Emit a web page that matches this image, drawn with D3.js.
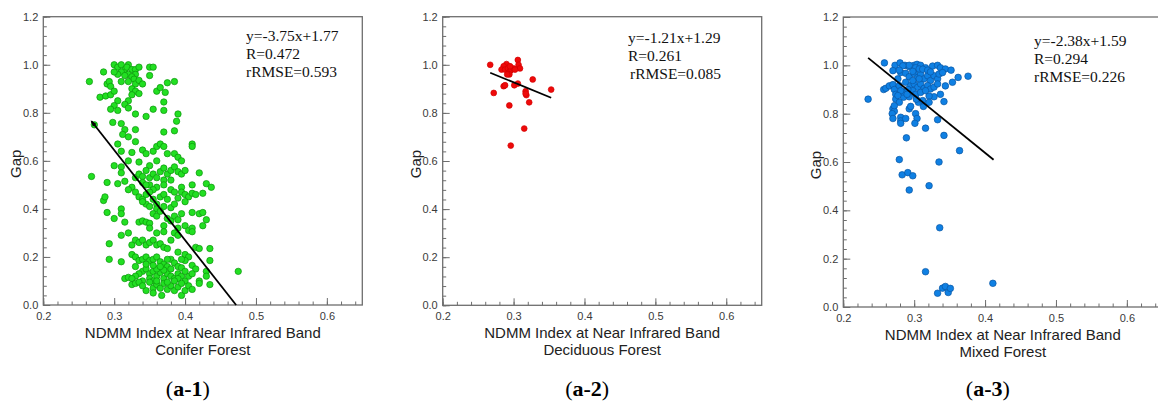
<!DOCTYPE html>
<html>
<head>
<meta charset="utf-8">
<script src="https://cdn.jsdelivr.net/npm/d3@7"></script>
<style>
  body { margin: 0; background: #fff; }
  svg { display: block; }
</style>
</head>
<body>
<svg id="fig" width="1158" height="403"></svg>
<script>
// tick values shared by the three panels
let xMajor = [0.2, 0.3, 0.4, 0.5, 0.6];
let yMajor = [0.0, 0.2, 0.4, 0.6, 0.8, 1.0, 1.2];

// conifer forest (a-1): [ndmm, gap]
let coniferPts = [
  [0.30,1.0],[0.305,0.99],[0.31,1.0],[0.315,0.98],[0.32,1.0],[0.318,0.99],[0.325,0.98],[0.31,0.97],[0.32,0.96],[0.33,0.98],
  [0.335,0.99],[0.35,0.99],[0.355,0.99],[0.33,0.96],[0.325,0.95],[0.305,0.96],[0.315,0.955],[0.35,0.955],[0.30,0.97],[0.328,0.94],
  [0.32,0.93],[0.33,0.92],[0.335,0.935],[0.31,0.93],[0.34,0.92],
  [0.265,0.93],[0.285,0.97],[0.29,0.92],[0.293,0.93],[0.295,0.91],[0.325,0.90],[0.33,0.89],[0.335,0.88],[0.325,0.875],[0.36,0.89],
  [0.365,0.905],[0.372,0.885],[0.375,0.925],[0.385,0.93],[0.28,0.865],[0.288,0.87],[0.295,0.875],[0.30,0.89],[0.305,0.85],[0.30,0.83],
  [0.32,0.85],
  [0.295,0.815],[0.305,0.81],[0.315,0.835],[0.32,0.82],[0.33,0.795],[0.345,0.785],[0.355,0.815],[0.37,0.845],[0.37,0.81],[0.298,0.76],
  [0.31,0.755],[0.315,0.73],[0.32,0.70],[0.312,0.71],[0.33,0.73],[0.39,0.795],[0.388,0.765],[0.37,0.72],[0.385,0.725],[0.272,0.75],
  [0.305,0.67],[0.31,0.64],[0.32,0.60],[0.325,0.635],[0.33,0.68],[0.34,0.645],[0.345,0.63],[0.355,0.64],[0.36,0.66],[0.365,0.67],
  [0.37,0.66],[0.375,0.63],[0.385,0.63],[0.39,0.615],[0.395,0.60],[0.41,0.67],[0.41,0.66],[0.36,0.60],[0.335,0.595],[0.30,0.58],
  [0.31,0.575],[0.35,0.58],
  [0.268,0.535],[0.29,0.51],[0.305,0.505],[0.31,0.55],[0.315,0.515],[0.325,0.49],[0.33,0.53],[0.335,0.545],[0.34,0.535],[0.345,0.56],
  [0.35,0.53],[0.355,0.545],[0.36,0.53],[0.365,0.555],[0.37,0.57],[0.375,0.545],[0.38,0.56],[0.385,0.575],[0.39,0.555],[0.395,0.545],
  [0.40,0.56],[0.38,0.52],[0.37,0.52],[0.35,0.50],[0.36,0.49],[0.395,0.49],[0.42,0.55],[0.41,0.50],[0.43,0.505],[0.437,0.49],
  [0.34,0.51],[0.345,0.50],[0.355,0.48],[0.37,0.50],
  [0.285,0.435],[0.287,0.45],[0.32,0.48],[0.33,0.47],[0.335,0.45],[0.34,0.44],[0.345,0.46],[0.35,0.47],[0.355,0.44],[0.36,0.42],
  [0.365,0.45],[0.37,0.46],[0.375,0.44],[0.38,0.48],[0.385,0.47],[0.39,0.445],[0.395,0.47],[0.40,0.46],[0.405,0.45],[0.41,0.465],
  [0.415,0.46],[0.425,0.465],[0.345,0.42],[0.35,0.41],[0.36,0.40],[0.37,0.41],[0.38,0.405],[0.385,0.42],[0.40,0.43],[0.34,0.43],
  [0.29,0.385],[0.30,0.36],[0.31,0.40],[0.31,0.38],[0.315,0.345],[0.335,0.345],[0.34,0.35],[0.345,0.345],[0.35,0.34],[0.355,0.38],
  [0.36,0.37],[0.365,0.39],[0.37,0.33],[0.375,0.36],[0.38,0.35],[0.385,0.37],[0.39,0.355],[0.395,0.38],[0.40,0.33],[0.405,0.31],
  [0.41,0.385],[0.42,0.38],[0.425,0.385],[0.43,0.355],[0.41,0.32],[0.41,0.305],[0.385,0.30],[0.39,0.29],[0.37,0.305],[0.36,0.30],
  [0.35,0.32],[0.32,0.30],[0.425,0.33],[0.39,0.32],
  [0.293,0.255],[0.31,0.29],[0.325,0.25],[0.33,0.27],[0.335,0.26],[0.34,0.27],[0.345,0.25],[0.35,0.26],[0.355,0.27],[0.36,0.25],
  [0.365,0.255],[0.37,0.24],[0.375,0.235],[0.38,0.27],[0.39,0.22],[0.40,0.21],[0.405,0.20],[0.415,0.24],[0.42,0.235],[0.435,0.235],
  [0.325,0.21],[0.33,0.20],
  [0.293,0.19],[0.31,0.18],[0.315,0.11],[0.32,0.115],[0.33,0.16],[0.335,0.185],[0.34,0.19],[0.345,0.20],[0.35,0.185],[0.355,0.19],
  [0.36,0.20],[0.365,0.18],[0.37,0.17],[0.375,0.16],[0.38,0.19],[0.385,0.175],[0.39,0.16],[0.395,0.155],[0.40,0.185],[0.41,0.165],
  [0.415,0.15],[0.43,0.14],[0.435,0.185],[0.475,0.14],[0.34,0.14],[0.345,0.15],[0.35,0.13],[0.355,0.14],[0.36,0.12],[0.365,0.135],
  [0.37,0.11],[0.375,0.13],[0.38,0.12],[0.385,0.11],[0.39,0.13],[0.395,0.12],[0.40,0.10],[0.405,0.12],[0.335,0.13],[0.33,0.12],
  [0.325,0.11],[0.34,0.10],[0.35,0.11],[0.355,0.10],[0.36,0.15],[0.37,0.145],[0.38,0.15],[0.39,0.11],[0.40,0.14],[0.345,0.17],
  [0.355,0.165],[0.365,0.16],[0.375,0.19],[0.395,0.19],[0.41,0.13],[0.42,0.10],[0.43,0.12],
  [0.325,0.085],[0.33,0.09],[0.335,0.095],[0.345,0.06],[0.355,0.07],[0.36,0.085],[0.365,0.07],[0.37,0.09],[0.375,0.065],[0.38,0.08],
  [0.385,0.06],[0.39,0.075],[0.395,0.04],[0.40,0.06],[0.405,0.08],[0.41,0.065],[0.367,0.04],[0.355,0.05],[0.34,0.08],[0.435,0.085],
  [0.35,0.095],[0.36,0.10],[0.375,0.095],[0.385,0.10],[0.395,0.09],[0.42,0.09]
];

// deciduous forest (a-2)
let deciduousPts = [
  [0.267,1.0],[0.272,0.883],[0.306,1.02],[0.307,1.0],[0.309,0.985],[0.29,1.003],[0.286,0.994],[0.283,0.98],[0.288,0.98],[0.292,0.985],
  [0.295,0.974],[0.297,0.98],[0.30,0.985],[0.294,0.96],[0.291,0.96],[0.286,0.911],[0.288,0.915],[0.301,0.915],[0.306,0.922],[0.327,0.939],
  [0.317,0.89],[0.318,0.874],[0.317,0.88],[0.322,0.844],[0.294,0.831],[0.315,0.735],[0.296,0.664],[0.353,0.897],[0.302,0.98],[0.295,0.994]
];

// mixed forest (a-3)
let mixedPts = [
  [0.235,0.86],[0.258,1.01],[0.257,0.90],[0.26,0.905],[0.265,0.915],[0.27,0.92],[0.272,0.90],[0.274,0.88],[0.274,0.86],[0.27,0.82],
  [0.272,0.81],[0.269,0.80],[0.27,0.78],[0.281,0.785],[0.281,0.77],[0.281,0.76],[0.288,0.78],[0.289,0.70],[0.293,0.82],[0.295,0.83],
  [0.302,0.80],[0.304,0.78],[0.301,0.76],[0.316,0.74],[0.333,0.775],[0.342,0.71],[0.364,0.647],[0.335,0.60],[0.279,0.61],[0.283,0.547],
  [0.291,0.556],[0.298,0.543],[0.293,0.484],[0.321,0.502],[0.336,0.328],[0.316,0.146],[0.333,0.057],[0.34,0.078],[0.344,0.085],[0.348,0.06],
  [0.351,0.077],[0.411,0.098],
  [0.273,1.0],[0.28,1.01],[0.287,1.0],[0.293,0.994],[0.30,1.0],[0.304,1.004],[0.309,1.0],[0.316,0.99],[0.326,0.997],[0.333,1.0],
  [0.337,0.99],[0.344,0.985],[0.352,0.98],[0.362,0.95],[0.376,0.955],[0.354,0.93],[0.344,0.915],[0.337,0.88],[0.342,0.85],[0.328,0.87],
  [0.321,0.873],[0.313,0.83],[0.306,0.847],[0.285,0.868],[0.293,0.87],[0.284,0.89],[0.279,0.916],[0.277,0.944],[0.27,0.978],[0.281,0.97],
  [0.288,0.967],[0.293,0.953],[0.30,0.966],[0.305,0.95],[0.309,0.964],[0.314,0.944],[0.319,0.957],[0.323,0.937],[0.328,0.957],[0.333,0.944],
  [0.335,0.964],[0.34,0.97],[0.288,0.93],[0.295,0.916],[0.30,0.923],[0.305,0.909],[0.309,0.923],[0.314,0.905],[0.319,0.916],[0.323,0.902],
  [0.328,0.91],[0.333,0.923],[0.298,0.895],[0.302,0.88],[0.309,0.888],[0.316,0.895],[0.307,0.944],[0.298,0.937],[0.293,1.0],[0.302,0.99],
  [0.307,0.985],[0.312,0.984],[0.284,0.998],[0.279,0.98],[0.298,0.975],[0.319,0.98],[0.323,0.973],[0.291,0.90],[0.281,0.895],[0.277,0.875],
  [0.29,0.88],[0.303,0.86],[0.312,0.854],[0.321,0.847],[0.279,0.847],[0.272,0.833]
];

// regression fits: slope, intercept, x range drawn
let fitSlope = [-3.75, -1.21, -2.38];
let fitIntercept = [1.77, 1.29, 1.59];
let fitRange = [[0.268, 0.472], [0.267, 0.353], [0.235, 0.412]];
let statLines = [
  ["y=-3.75x+1.77", "R=0.472", "rRMSE=0.593"],
  ["y=-1.21x+1.29", "R=0.261", "rRMSE=0.085"],
  ["y=-2.38x+1.59", "R=0.294", "rRMSE=0.226"]
];
let forestNames = ["Conifer Forest", "Deciduous Forest", "Mixed Forest"];
let captions = ["a-1", "a-2", "a-3"];

let panels = [
  { pts: coniferPts,   left: 43.3,  top: 16.7, bottom: 305,   fill: "#22df22", stroke: "#0c940c", r: 3.2, arrow: true,  statX: 246, statY: 41 },
  { pts: deciduousPts, left: 442.7, top: 16.7, bottom: 305.3, fill: "#ee0a0a", stroke: "#d20000", r: 2.9, arrow: false, statX: 628, statY: 42.5 },
  { pts: mixedPts,     left: 843.3, top: 17,   bottom: 307,   fill: "#0f80e3", stroke: "#0a56a4", r: 3.3, arrow: false, statX: 1034, statY: 45.5 }
];
let plotW = 319;

let svg = d3.select("#fig");

svg.append("defs").append("marker")
  .attr("id", "arrowHead")
  .attr("viewBox", "0 0 10 10")
  .attr("refX", 8).attr("refY", 5)
  .attr("markerWidth", 3.6).attr("markerHeight", 3.6)
  .attr("orient", "auto-start-reverse")
  .append("path")
    .attr("d", "M0,1.5 L10,5 L0,8.5 Z")
    .attr("fill", "#000");

let sansFont = "'Liberation Sans', Arial, sans-serif";
let serifFont = "'Liberation Serif', 'Times New Roman', serif";

drawPanel = (p, i) => {
  let x = d3.scaleLinear().domain([0.2, 0.65]).range([p.left, p.left + plotW]);
  let y = d3.scaleLinear().domain([0, 1.2]).range([p.bottom, p.top]);
  let g = svg.append("g").attr("class", "panel" + (i + 1));

  let xMinor = d3.range(0.2, 0.6501, 0.02);
  let yMinor = d3.range(0, 1.2001, 0.04);

  // minor ticks (inward)
  g.append("g")
    .attr("transform", "translate(0," + p.bottom + ")")
    .call(d3.axisBottom(x).tickValues(xMinor).tickSize(-3.5).tickFormat(""));
  g.append("g")
    .attr("transform", "translate(" + p.left + ",0)")
    .call(d3.axisLeft(y).tickValues(yMinor).tickSize(-3.5).tickFormat(""));

  // major ticks with labels
  g.append("g")
    .attr("class", "xax")
    .attr("transform", "translate(0," + p.bottom + ")")
    .call(d3.axisBottom(x).tickValues(xMajor).tickSize(-7).tickPadding(7).tickFormat(d3.format(".1f")));
  g.append("g")
    .attr("class", "yax")
    .attr("transform", "translate(" + p.left + ",0)")
    .call(d3.axisLeft(y).tickValues(yMajor).tickSize(-7).tickPadding(5).tickFormat(d3.format(".1f")));

  g.selectAll(".domain").remove();
  g.selectAll(".tick line").attr("stroke", "#6e6e6e").attr("stroke-width", 1);
  g.selectAll(".tick text")
    .attr("fill", "#3a3a3a")
    .style("font-family", sansFont)
    .style("font-size", "11px");

  // frame
  g.append("rect")
    .attr("x", p.left).attr("y", p.top)
    .attr("width", plotW).attr("height", p.bottom - p.top)
    .attr("fill", "none")
    .attr("stroke", "#6e6e6e")
    .attr("stroke-width", 1.3);

  // points
  g.append("g").selectAll("circle")
    .data(p.pts).enter().append("circle")
      .attr("cx", (d) => x(d[0]))
      .attr("cy", (d) => y(d[1]))
      .attr("r", p.r)
      .attr("fill", p.fill)
      .attr("stroke", p.stroke)
      .attr("stroke-width", 0.7);

  // fitted line
  let fx = fitRange[i];
  let line = g.append("line")
    .attr("x1", x(fx[0])).attr("y1", y(fitSlope[i] * fx[0] + fitIntercept[i]))
    .attr("x2", x(fx[1])).attr("y2", y(fitSlope[i] * fx[1] + fitIntercept[i]))
    .attr("stroke", "#000")
    .attr("stroke-width", 1.8);
  if (p.arrow) line.attr("marker-start", "url(#arrowHead)");

  // statistics text
  let st = g.append("text")
    .style("font-family", serifFont)
    .style("font-size", "15.5px")
    .attr("fill", "#111");
  statLines[i].forEach((s, k) => {
    st.append("tspan").attr("x", p.statX + (i == 1 && k == 2 ? 2 : 0)).attr("y", p.statY + k * 18).text(s);
  });

  // axis titles
  let cx = p.left + plotW / 2;
  g.append("text")
    .attr("transform", "translate(" + (p.left - 22) + "," + ((p.top + p.bottom) / 2 + 3) + ") rotate(-90)")
    .attr("text-anchor", "middle")
    .style("font-family", sansFont)
    .style("font-size", "15px")
    .attr("fill", "#222")
    .text("Gap");
  g.append("text")
    .attr("x", cx).attr("y", p.bottom + 33)
    .attr("text-anchor", "middle")
    .style("font-family", sansFont)
    .style("font-size", "15px")
    .attr("fill", "#222")
    .text("NDMM Index at Near Infrared Band");
  g.append("text")
    .attr("x", cx).attr("y", p.bottom + 50)
    .attr("text-anchor", "middle")
    .style("font-family", sansFont)
    .style("font-size", "15px")
    .attr("fill", "#222")
    .text(forestNames[i]);

  // caption
  let cap = g.append("text")
    .attr("x", cx - 15).attr("y", 396)
    .attr("text-anchor", "middle")
    .style("font-family", serifFont)
    .style("font-size", "22px")
    .attr("fill", "#000");
  cap.append("tspan").text("(");
  cap.append("tspan").attr("font-weight", "bold").text(captions[i]);
  cap.append("tspan").text(")");
};

panels.forEach(drawPanel);
</script>
</body>
</html>
